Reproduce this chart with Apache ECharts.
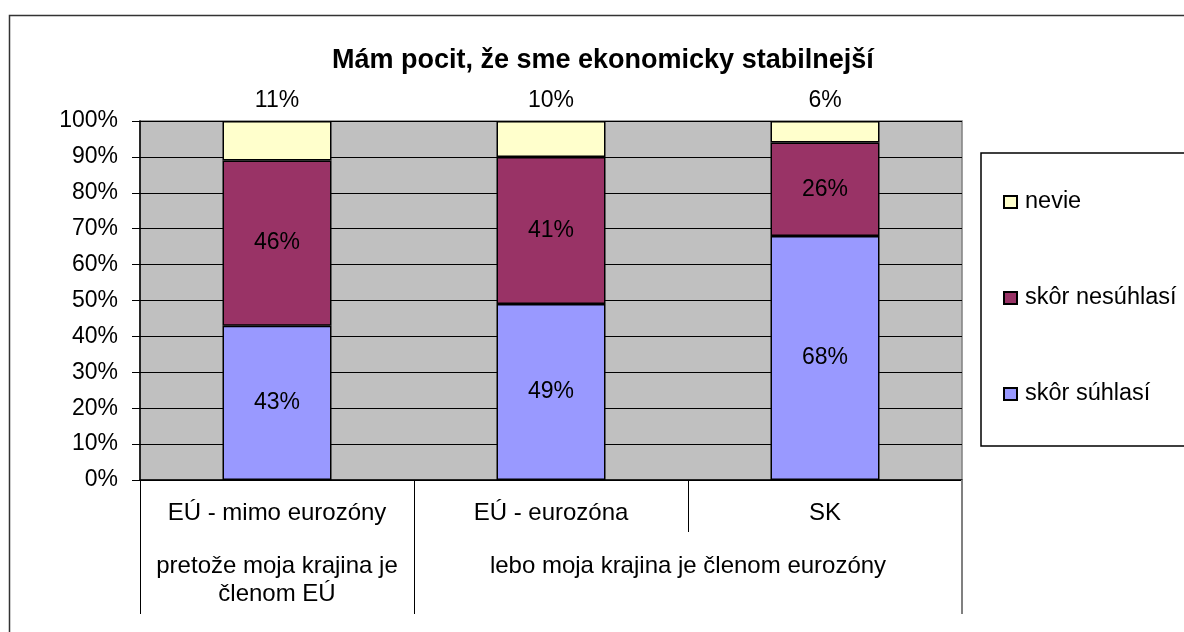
<!DOCTYPE html>
<html>
<head>
<meta charset="utf-8">
<script src="https://cdn.jsdelivr.net/npm/echarts@6/dist/echarts.min.js"></script>
<style>
  html, body { margin: 0; padding: 0; background: #fff; }
  #main { width: 1184px; height: 632px; }
</style>
</head>
<body>
<div id="main"></div>
<script>
const categories = ['EÚ - mimo eurozóny', 'EÚ - eurozóna', 'SK']
// second label row, laid out on half-category steps
const groupLabels = ['', 'pretože moja krajina je\nčlenom EÚ', '', '', 'lebo moja krajina je členom eurozóny', '', '']
const suhlasi = [43, 49, 68]
const nesuhlasi = [46, 41, 26]
const nevie = [11, 10, 6]
const yTicks = [0, 10, 20, 30, 40, 50, 60, 70, 80, 90, 100]

const font = 'Liberation Sans, Arial, sans-serif'

const chartDom = document.getElementById('main')
const myChart = echarts.init(chartDom)

const barStyle = { borderColor: '#000', borderWidth: 1.5 }
const lbl = { show: true, color: '#000', fontSize: 23, fontFamily: font, formatter: '{c}%' }

const option = {
  animation: false,
  backgroundColor: '#fff',
  textStyle: { fontFamily: font },
  graphic: [{
    type: 'rect',
    shape: { x: 9.5, y: 15.5, width: 1300, height: 800 },
    style: { fill: 'none', stroke: '#333', lineWidth: 1.5 },
    silent: true
  }],
  title: {
    text: 'Mám pocit, že sme ekonomicky stabilnejší',
    left: 327,
    top: 42,
    textStyle: { fontSize: 27, fontWeight: 'bold', color: '#000', fontFamily: font }
  },
  legend: {
    orient: 'vertical',
    left: 981,
    top: 153,
    data: ['nevie', 'skôr nesúhlasí', 'skôr súhlasí'],
    icon: 'rect',
    itemWidth: 13,
    itemHeight: 12,
    itemGap: 72,
    padding: [37, 60, 40, 22],
    borderColor: '#000',
    borderWidth: 1.5,
    backgroundColor: '#fff',
    textStyle: { fontSize: 23.5, color: '#000', lineHeight: 24, fontFamily: font, padding: [0, 0, 0, 3] }
  },
  grid: {
    left: 140, right: 222, top: 121, bottom: 152,
    show: true, backgroundColor: '#c0c0c0', borderColor: '#808080', borderWidth: 1.5
  },
  xAxis: [
    {
      type: 'category',
      data: categories,
      axisLine: { lineStyle: { color: '#000', width: 1.5 } },
      axisTick: { show: true, length: 52, interval: 0, lineStyle: { color: '#000' } },
      axisLabel: { color: '#000', fontSize: 24, margin: 21, interval: 0 }
    },
    {
      type: 'category',
      boundaryGap: false,
      data: groupLabels,
      position: 'bottom',
      axisLine: { show: false },
      axisTick: {
        show: true, length: 134,
        interval: (i) => i === 0 || i === 2,
        lineStyle: { color: '#000' }
      },
      axisLabel: {
        color: '#000', fontSize: 24, margin: 72, lineHeight: 28,
        interval: (i) => i === 1 || i === 4
      }
    },
    {
      type: 'category',
      boundaryGap: false,
      data: groupLabels,
      position: 'bottom',
      axisLine: { show: false },
      axisTick: {
        show: true, length: 134,
        interval: (i) => i === 6,
        lineStyle: { color: '#808080', width: 2 }
      },
      axisLabel: { show: false }
    }
  ],
  yAxis: {
    type: 'value',
    min: 0,
    max: 100,
    interval: 10,
    axisLine: { show: true, lineStyle: { color: '#000', width: 1.5 } },
    axisTick: { show: true, length: 8, lineStyle: { color: '#000' } },
    axisLabel: { color: '#000', fontSize: 23, margin: 22, formatter: (v) => yTicks.includes(v) ? v + '%' : '' },
    splitLine: { lineStyle: { color: '#000', width: 1 } }
  },
  series: [
    {
      name: 'skôr súhlasí', type: 'bar', stack: 'a', data: suhlasi, barWidth: 109,
      itemStyle: Object.assign({ color: '#9999ff' }, barStyle),
      label: Object.assign({ position: 'inside' }, lbl)
    },
    {
      name: 'skôr nesúhlasí', type: 'bar', stack: 'a', data: nesuhlasi, barWidth: 109,
      itemStyle: Object.assign({ color: '#993366' }, barStyle),
      label: Object.assign({ position: 'inside' }, lbl)
    },
    {
      name: 'nevie', type: 'bar', stack: 'a', data: nevie, barWidth: 109,
      itemStyle: Object.assign({ color: '#ffffcc' }, barStyle),
      label: Object.assign({ position: 'top', distance: 9 }, lbl)
    }
  ]
}
option && myChart.setOption(option)
</script>
</body>
</html>
